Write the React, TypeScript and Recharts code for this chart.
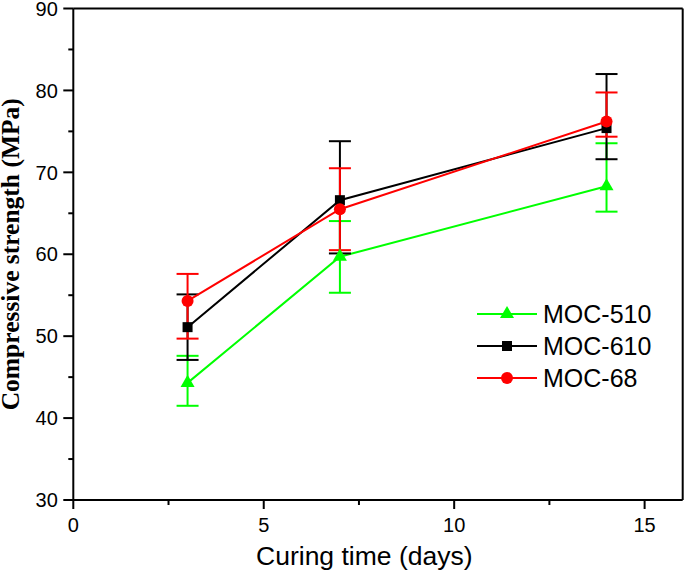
import React from 'react';
import { LineChart, Line, XAxis, YAxis, ErrorBar, Legend, ReferenceLine } from 'recharts';

// curing time in days
const days = [3, 7, 14];

// compressive strength (MPa) and error bars [below, above]
const moc510 = [44.3, 59.7, 68.3];
const moc510Err = [[2.8, 3.3], [4.4, 4.35], [3.1, 5.25]];
const moc610 = [51.1, 66.6, 75.4];
const moc610Err = [[4.0, 4.0], [6.5, 7.2], [3.8, 6.6]];
const moc68 = [54.3, 65.5, 76.2];
const moc68Err = [[4.6, 3.3], [5.0, 5.0], [1.85, 3.55]];

const xTicks = [0, 2.5, 5, 7.5, 10, 12.5, 15];
const yTicks = [30, 35, 40, 45, 50, 55, 60, 65, 70, 75, 80, 85, 90];

const data = days.map((d, i) => ({
    day: d,
    m510: moc510[i],
    m510e: moc510Err[i],
    m610: moc610[i],
    m610e: moc610Err[i],
    m68: moc68[i],
    m68e: moc68Err[i],
}));

const SANS = '"Liberation Sans", Arial, sans-serif';
const SERIF = '"Liberation Serif", "Times New Roman", serif';

const shapes: Record<string, string> = { m510: 'triangle', m610: 'square', m68: 'circle' };

function Marker({ shape, cx, cy, color }: { shape: string; cx: number; cy: number; color: string }) {
    if (shape === 'triangle') {
        const pts = `${cx},${cy - 8.1} ${cx - 7},${cy + 4.05} ${cx + 7},${cy + 4.05}`;
        return <polygon points={pts} fill={color} />;
    }
    if (shape === 'square') {
        return <rect x={cx - 5} y={cy - 5} width={10} height={10} fill={color} />;
    }
    return <circle cx={cx} cy={cy} r={6} fill={color} />;
}

const makeDot = (shape: string, color: string) => (props: any) => {
    const { cx, cy, index } = props;
    return <Marker key={`${shape}-${index}`} shape={shape} cx={cx} cy={cy} color={color} />;
};

const XTick = (props: any) => {
    const { x, y, payload } = props;
    const v = payload.value;
    const major = v % 5 === 0;
    return (
        <g>
            <line x1={x} x2={x} y1={y} y2={y + (major ? 9 : 5)} stroke="#000" strokeWidth={2} />
            {major && (
                <text x={x} y={y + 32} textAnchor="middle" fontSize={20} fontFamily={SANS} fill="#000">
                    {v}
                </text>
            )}
        </g>
    );
};

const YTick = (props: any) => {
    const { x, y, payload } = props;
    const v = payload.value;
    const major = v % 10 === 0;
    return (
        <g>
            <line x1={x} x2={x - (major ? 10 : 5)} y1={y} y2={y} stroke="#000" strokeWidth={2} />
            {major && (
                <text x={x - 15.5} y={y + 7.2} textAnchor="end" fontSize={20} fontFamily={SANS} fill="#000">
                    {v}
                </text>
            )}
        </g>
    );
};

const LegendBox = (props: any) => {
    const { payload } = props;
    return (
        <div>
            {(payload || []).map((item: any) => (
                <div key={item.dataKey} style={{ display: 'flex', alignItems: 'center', height: 32 }}>
                    <svg width={60} height={32}>
                        <line x1={0} x2={60} y1={16} y2={16} stroke={item.color} strokeWidth={2} />
                        <Marker shape={shapes[item.dataKey]} cx={30} cy={16} color={item.color} />
                    </svg>
                    <span style={{ marginLeft: 6, fontSize: 25, fontFamily: SANS, color: '#000', lineHeight: '32px' }}>
                        {item.value}
                    </span>
                </div>
            ))}
        </div>
    );
};

export default function App() {
    return (
        <div style={{ position: 'absolute', left: 0, top: 0, width: 685, height: 573, background: '#fff' }}>
            <LineChart width={685} height={573} data={data} margin={{ top: 8.5, right: 2.3, left: 0, bottom: 0 }}>
                <XAxis
                    dataKey="day"
                    type="number"
                    domain={[0, 16]}
                    ticks={xTicks}
                    interval={0}
                    height={73}
                    tickSize={0}
                    tickMargin={0}
                    tickLine={false}
                    axisLine={{ stroke: '#000', strokeWidth: 2 }}
                    tick={<XTick />}
                    label={{
                        content: (p: any) => {
                            const vb = p.viewBox || { x: 73.3, y: 500 };
                            return (
                                <text x={vb.x + 291} y={vb.y + 65} textAnchor="middle" fontSize={26.5} fontFamily={SANS} fill="#000">
                                    Curing time (days)
                                </text>
                            );
                        },
                    }}
                />
                <YAxis
                    type="number"
                    domain={[30, 90]}
                    ticks={yTicks}
                    interval={0}
                    width={73.3}
                    tickSize={0}
                    tickMargin={0}
                    tickLine={false}
                    axisLine={{ stroke: '#000', strokeWidth: 2 }}
                    tick={<YTick />}
                    label={{
                        content: (p: any) => {
                            const vb = p.viewBox || { y: 8.5, height: 491.5 };
                            const cy = vb.y + vb.height / 2;
                            return (
                                <text
                                    transform={`translate(19, ${cy}) rotate(-90)`}
                                    textAnchor="middle"
                                    fontSize={25.5}
                                    fontWeight="bold"
                                    fontFamily={SERIF}
                                    fill="#000"
                                >
                                    Compressive strength (MPa)
                                </text>
                            );
                        },
                    }}
                />
                <ReferenceLine y={90} stroke="#000" strokeWidth={2} />
                <ReferenceLine x={16} stroke="#000" strokeWidth={2} />
                <Legend
                    layout="horizontal"
                    verticalAlign="middle"
                    align="center"
                    content={<LegendBox />}
                    wrapperStyle={{ position: 'absolute', left: 477, top: 298, width: 'auto', height: 'auto' }}
                />
                <Line
                    name="MOC-510"
                    dataKey="m510"
                    stroke="#00ff00"
                    strokeWidth={2}
                    dot={makeDot('triangle', '#00ff00')}
                    activeDot={false}
                    isAnimationActive={false}
                >
                    <ErrorBar dataKey="m510e" direction="y" width={11} stroke="#00ff00" strokeWidth={2} />
                </Line>
                <Line
                    name="MOC-610"
                    dataKey="m610"
                    stroke="#000000"
                    strokeWidth={2}
                    dot={makeDot('square', '#000000')}
                    activeDot={false}
                    isAnimationActive={false}
                >
                    <ErrorBar dataKey="m610e" direction="y" width={11} stroke="#000000" strokeWidth={2} />
                </Line>
                <Line
                    name="MOC-68"
                    dataKey="m68"
                    stroke="#ff0000"
                    strokeWidth={2}
                    dot={makeDot('circle', '#ff0000')}
                    activeDot={false}
                    isAnimationActive={false}
                >
                    <ErrorBar dataKey="m68e" direction="y" width={11} stroke="#ff0000" strokeWidth={2} />
                </Line>
            </LineChart>
        </div>
    );
}
